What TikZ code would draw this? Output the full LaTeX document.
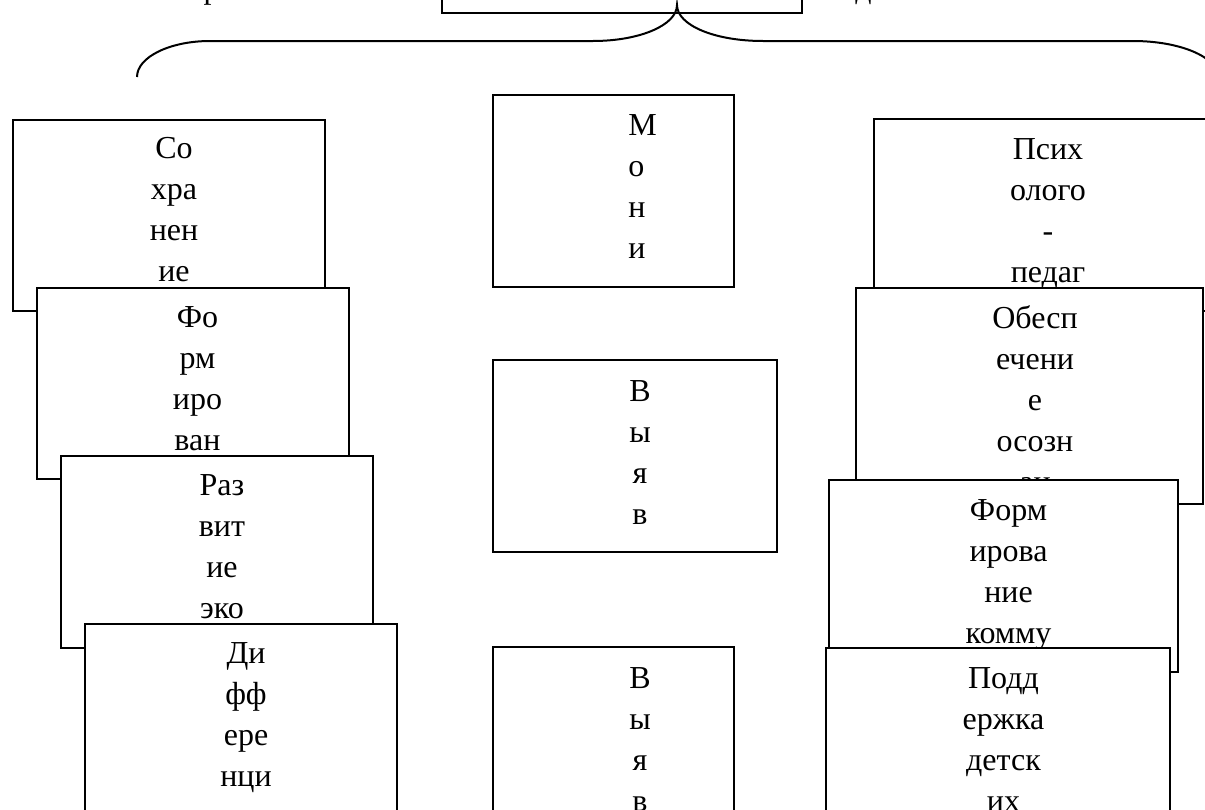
\documentclass[tikz,border=0pt]{standalone}
\usepackage{fontspec}
\setmainfont{Liberation Serif}
\newcommand\stk[1]{\vtop{\baselineskip=20.5pt\lineskiplimit=-100pt\halign{\hfil##\hfil\cr#1\crcr}}}
\newcommand\stkl[1]{\vtop{\baselineskip=20.5pt\lineskiplimit=-100pt\halign{##\hfil\cr#1\crcr}}}
\begin{document}
\begin{tikzpicture}[x=0.5pt,y=-0.5pt,
  box/.style={draw, line width=0.9pt, fill=white, inner sep=0pt, anchor=north west},
  txt/.style={anchor=base, inner sep=0pt, font=\fontsize{16pt}{20.5pt}\selectfont},
  bracepath/.style={draw, line width=1pt}]
\useasboundingbox[fill=white] (0,0) rectangle (1205,809);
% top cut-off text
\node[txt] (topl) at (211.5,-2) {р};
\node[txt] (topr) at (863.5,-2) {д};
% top box
\node[box, minimum width=180pt, minimum height=26pt] (top) at (441,-40) {};
% brace
\coordinate (tip) at (677,5);
\path[bracepath] (137,77) .. controls (137,57) and (170,41) .. (210,41) -- (593,41)
  .. controls (640,41) and (677,25) .. (tip)
  .. controls (677,25) and (714,41) .. (763,41) -- (1133,41)
  .. controls (1180,41) and (1218,57) .. (1218,77);
% left column
\node[box, minimum width=156pt, minimum height=95.5pt] (b1) at (12,119) {};
\node[txt] (t1) at (174,158) {\stk{Со\cr хра\cr нен\cr ие}};
\node[box, minimum width=156pt, minimum height=95.5pt] (b2) at (36,287) {};
\node[txt] (t2) at (197.5,327) {\stk{Фо\cr рм\cr иро\cr ван}};
\node[box, minimum width=156pt, minimum height=96pt] (b3) at (60,455) {};
\node[txt] (t3) at (222,495) {\stk{Раз\cr вит\cr ие\cr эко}};
\node[box, minimum width=156pt, minimum height=96pt] (b4) at (84,623) {};
\node[txt] (t4) at (246,663) {\stk{Ди\cr фф\cr ере\cr нци}};
% middle column
\node[box, minimum width=120.5pt, minimum height=96pt] (m1) at (492,94) {};
\node[txt, anchor=base west] (s1) at (628,135) {\stkl{М\cr о\cr н\cr и}};
\node[box, minimum width=142pt, minimum height=96pt] (m2) at (492,359) {};
\node[txt] (s2) at (640,401) {\stk{В\cr ы\cr я\cr в}};
\node[box, minimum width=120.5pt, minimum height=96pt] (m3) at (492,646) {};
\node[txt] (s3) at (640,688) {\stk{В\cr ы\cr я\cr в}};
% right column
\node[box, minimum width=173.5pt, minimum height=96pt] (r1) at (873,118) {};
\node[txt] (u1) at (1048,159) {\stk{Псих\cr олого\cr -\cr педаг}};
\node[box, minimum width=173.5pt, minimum height=108pt] (r2) at (855,287) {};
\node[txt] (u2) at (1035,328) {\stk{Обесп\cr ечени\cr е\cr осозн\cr ан}};
\node[box, minimum width=174.5pt, minimum height=96pt] (r3) at (828,479) {};
\node[txt] (u3) at (1008.5,520) {\stk{Форм\cr ирова\cr ние\cr комму}};
\node[box, minimum width=172pt, minimum height=96pt] (r4) at (825,647) {};
\node[txt] (u4) at (1003.5,688) {\stk{Подд\cr ержка\cr детск\cr их}};
\end{tikzpicture}
\end{document}
